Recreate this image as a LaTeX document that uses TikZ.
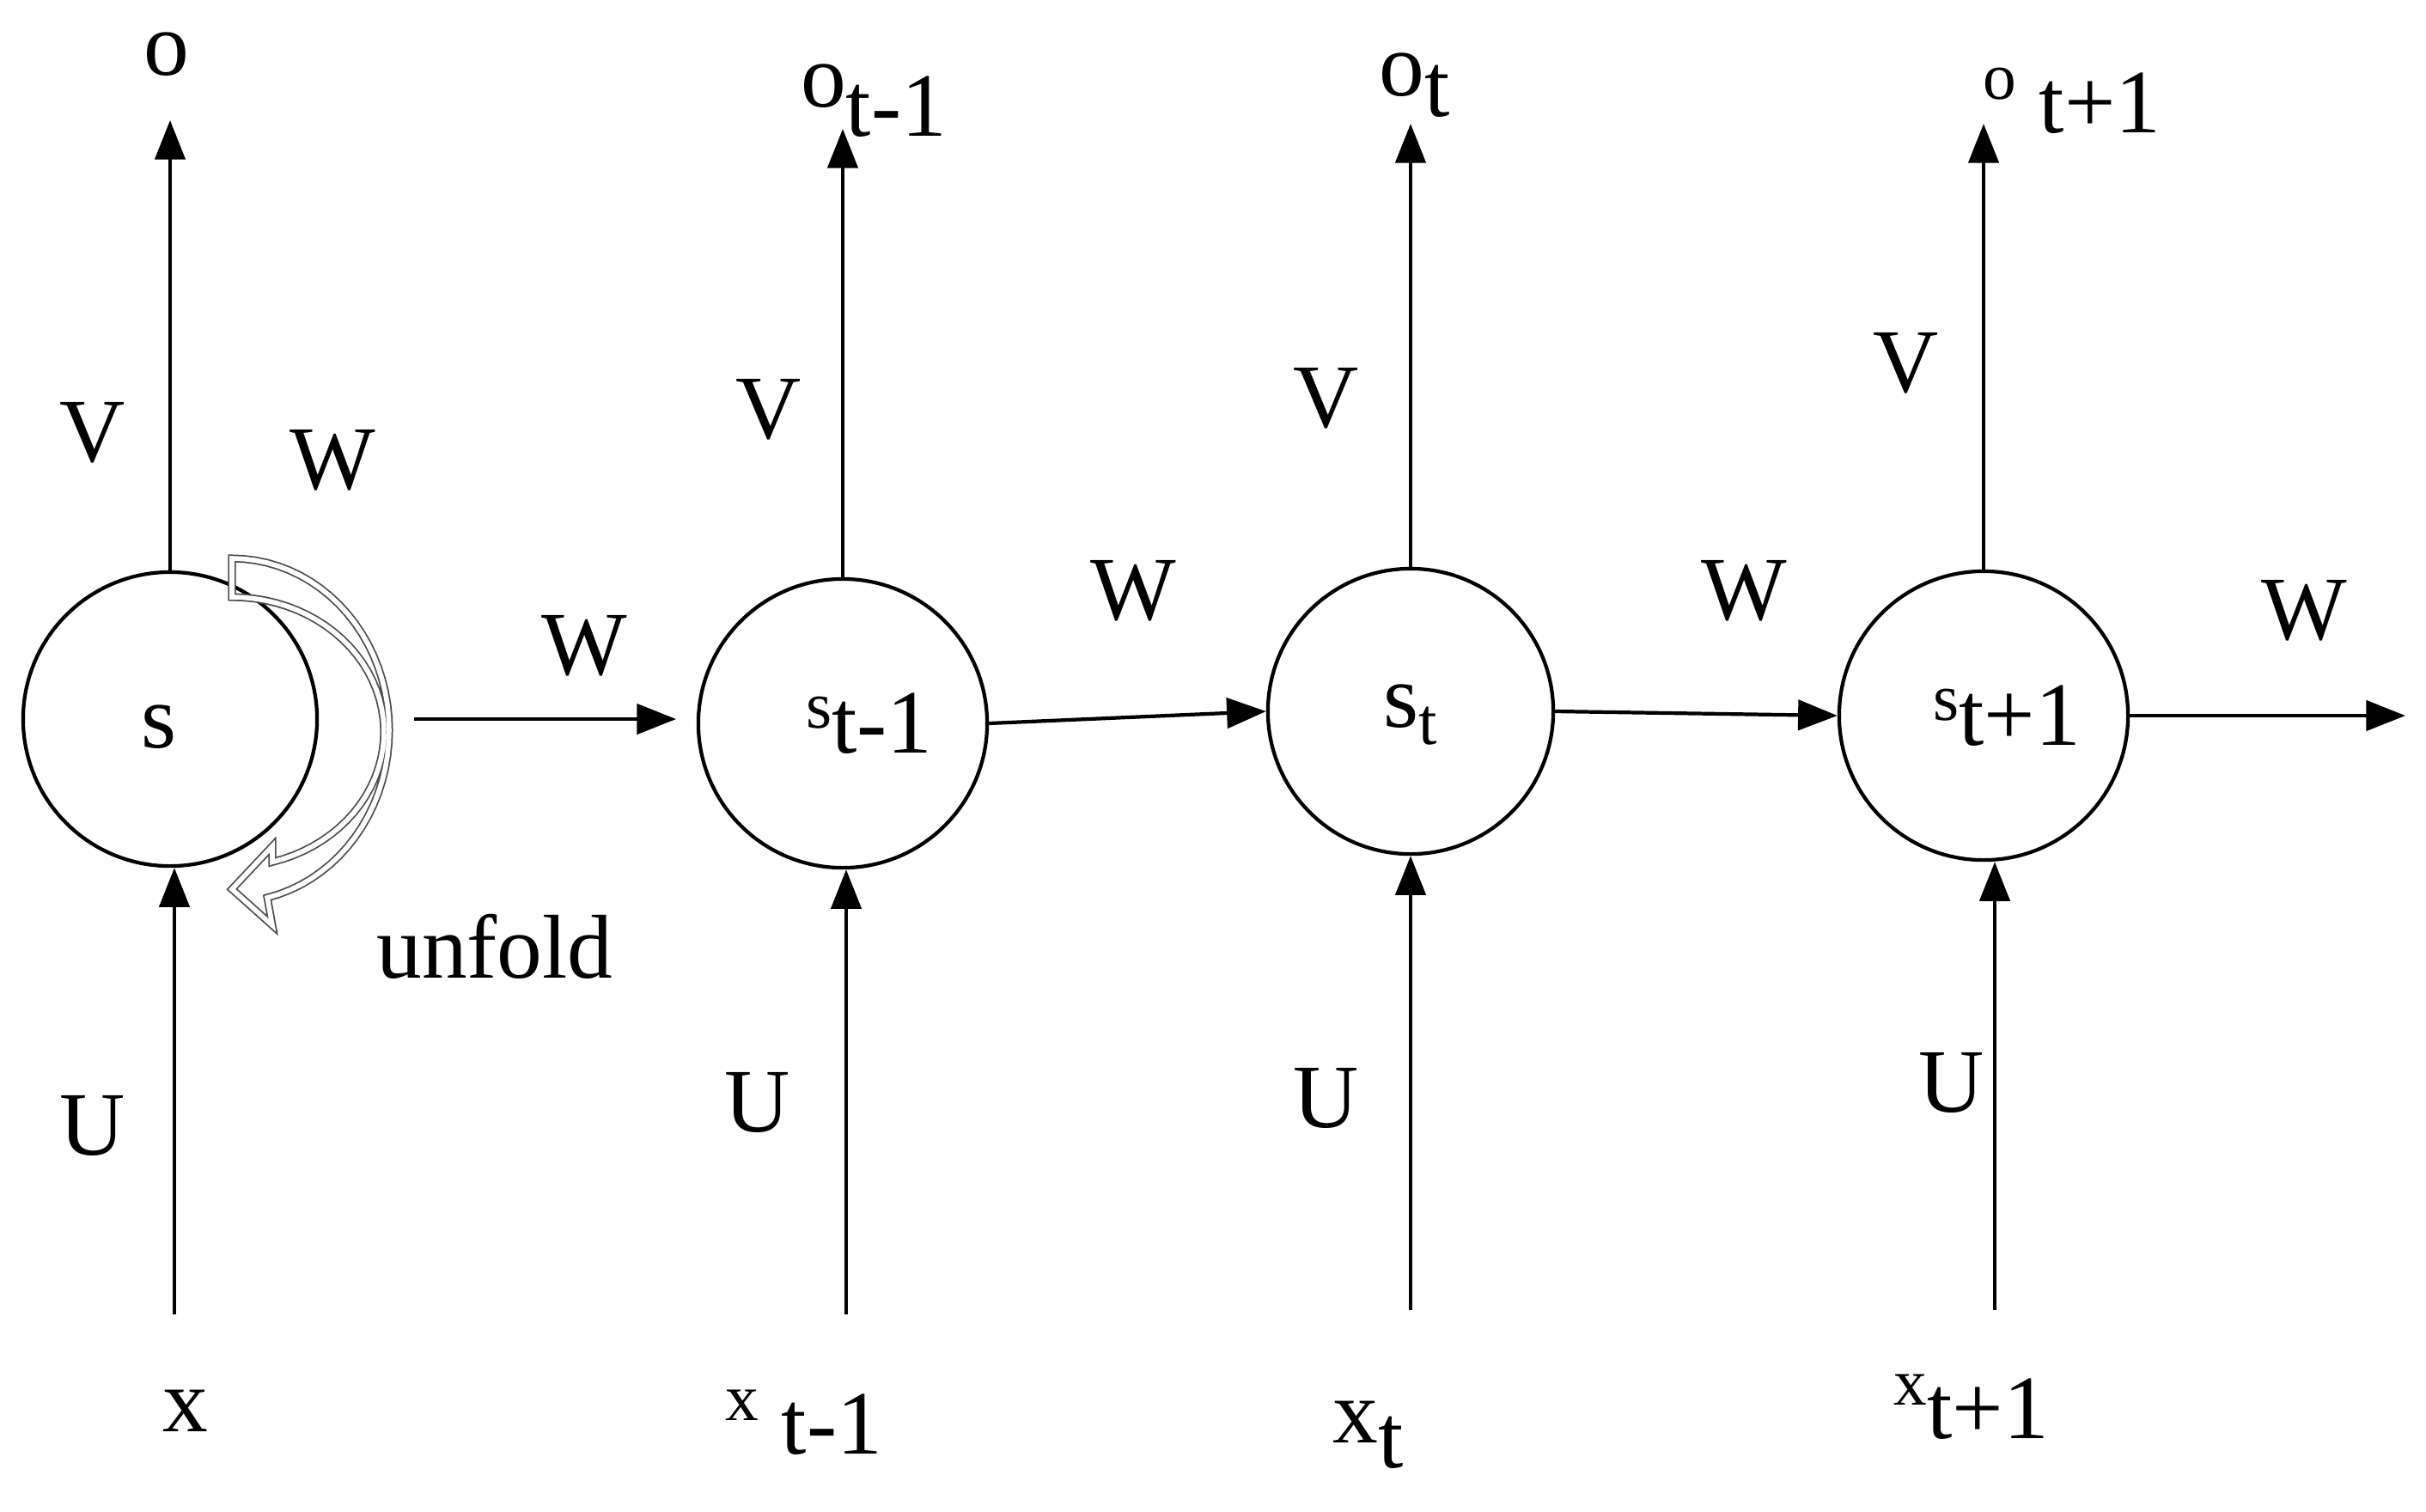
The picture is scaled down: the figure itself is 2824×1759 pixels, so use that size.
\documentclass[tikz,border=0pt]{standalone}
\usepackage{fontspec}
\setmainfont{Liberation Serif}
\usetikzlibrary{arrows.meta}
\begin{document}
\begin{tikzpicture}[x=0.01cm,y=-0.01cm,
  big/.style={font=\fontsize{30}{36}\selectfont, inner sep=0pt},
  cell/.style={circle, draw, line width=1.2pt, inner sep=0pt},
  arr/.style={line width=1.2pt, -{Triangle[length=13pt,width=10pt]}},
  ln/.style={line width=1.2pt}]
\newcommand{\smt}[1]{{\fontsize{22}{26}\selectfont #1}}
\useasboundingbox (0,0) rectangle (2824,1759);
% cells
\node[cell, minimum size=342\pgflinewidth*0+3.42cm] (A) at (198,837) {};
\node[cell, minimum size=3.36cm] (B) at (981,842) {};
\node[cell, minimum size=3.32cm] (C) at (1642,828) {};
\node[cell, minimum size=3.36cm] (D) at (2309,833) {};
\node[big] (sA) at (185,846) {s};
\node[big] (sB) at (1012,842) {\raisebox{0.6ex}{\smt{s}}t-1};
\node[big] (sC) at (1642,832) {s\raisebox{-0.4ex}{\smt{t}}};
\node[big] (sD) at (2336,833) {\raisebox{0.6ex}{\smt{s}}t+1};
% top coordinates
\coordinate (tA) at (198,140);
\coordinate (tB) at (981,150);
\coordinate (tC) at (1642,144);
\coordinate (tD) at (2309,144);
\coordinate (bA) at (203,1530);
\coordinate (bB) at (985,1530);
\coordinate (bC) at (1642,1525);
\coordinate (bD) at (2322,1525);
\coordinate (hA) at (482,837);
\coordinate (hAe) at (787,837);
\coordinate (hE) at (2800,833);
\draw[arr] (A.north) -- (tA);
\draw[arr] (B.north) -- (tB);
\draw[arr] (C.north) -- (tC);
\draw[arr] (D.north) -- (tD);
\draw[arr] (bA) -- (bA |- A.south);
\draw[arr] (bB) -- (bB |- B.south);
\draw[arr] (bC) -- (bC |- C.south);
\draw[arr] (bD) -- (bD |- D.south);
\draw[arr] (hA) -- (hAe);
\draw[arr] (B.east) -- (C.west);
\draw[arr] (C.east) -- (D.west);
\draw[arr] (D.east) -- (hE);
% unfold arrow
\draw[draw=black!70, line width=0.5pt, double=white, double distance=1.6pt]
  (270,650) -- plot[domain=-90:77, samples=40] ({270+183*cos(\x)},{850+200*sin(\x)})
  -- (317,1077) -- (270,1035) -- (317,985) -- (317,1003)
  -- plot[domain=74.6:-90, samples=40] ({270+177*cos(\x)},{852+157*sin(\x)})
  -- cycle;
% labels
\node[big] (oA) at (194,63) {o};
\node[big] (oB) at (1017,117) {\raisebox{0.7ex}{o}t-1};
\node[big] (oC) at (1647,99) {o\raisebox{-0.5ex}{t}};
\node[big] (oD) at (2412,117) {\raisebox{0.8ex}{\smt{o}} t+1};
\node[big] (VA) at (108,504) {V};
\node[big] (VB) at (895,477) {V};
\node[big] (VC) at (1544,464) {V};
\node[big] (VD) at (2219,423) {V};
\node[big] (W0) at (387,536) {W};
\node[big] (W1) at (680,752) {W};
\node[big] (W2) at (1319,688) {W};
\node[big] (W3) at (2030,688) {W};
\node[big] (W4) at (2682,711) {W};
\node[big] (unf) at (576,1102) {unfold};
\node[big] (UA) at (108,1310) {U};
\node[big] (UB) at (882,1283) {U};
\node[big] (UC) at (1544,1278) {U};
\node[big] (UD) at (2272,1260) {U};
\node[big] (xA) at (216,1642) {x};
\node[big] (xB) at (936,1656) {\raisebox{0.8ex}{\smt{x}} t-1};
\node[big] (xC) at (1593,1670) {\raisebox{0.6ex}{x}t};
\node[big] (xD) at (2295,1638) {\raisebox{0.8ex}{\smt{x}}t+1};
\end{tikzpicture}
\end{document}
